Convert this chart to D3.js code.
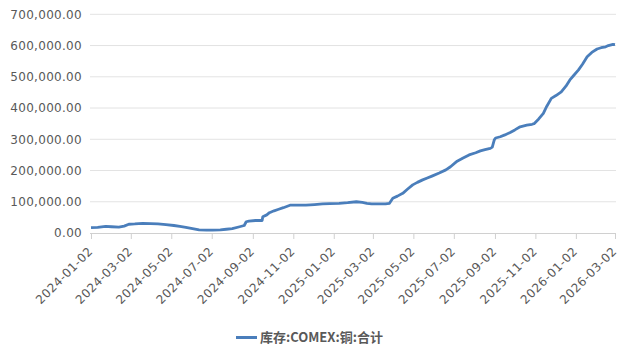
<!DOCTYPE html>
<html>
<head>
<meta charset="utf-8">
<script src="https://cdn.jsdelivr.net/npm/d3@7/dist/d3.min.js"></script>
<style>
  html, body { margin: 0; padding: 0; background: #fff; }
  svg { display: block; }
  .tick text { font-family: "DejaVu Sans", sans-serif; font-size: 12px; fill: #595959; letter-spacing: 0.3px; }
  .x-axis .tick text { letter-spacing: 0.5px; }
  .legend text { font-family: "Noto Sans CJK SC", sans-serif; font-size: 13px; font-weight: bold; fill: #595959; }
</style>
</head>
<body>
<svg id="chart" width="617" height="349"></svg>
<script>
// COMEX copper inventory, total
const seriesName = "库存:COMEX:铜:合计";
const dates = [
  "2024-01-02","2024-01-12","2024-01-24","2024-02-02","2024-02-13","2024-02-21","2024-02-28",
  "2024-03-08","2024-03-20","2024-04-01","2024-04-12","2024-04-24","2024-05-06","2024-05-15",
  "2024-05-24","2024-06-03","2024-06-13","2024-06-24","2024-07-03","2024-07-15","2024-07-24",
  "2024-08-02","2024-08-13","2024-08-20","2024-08-23","2024-08-27","2024-09-06","2024-09-16",
  "2024-09-17","2024-09-23","2024-09-27","2024-10-04","2024-10-11","2024-10-18","2024-10-28",
  "2024-11-08","2024-11-21","2024-12-04","2024-12-16","2024-12-27","2025-01-10","2025-01-23",
  "2025-02-05","2025-02-14","2025-02-21","2025-02-28","2025-03-12","2025-03-21","2025-03-27",
  "2025-04-01","2025-04-08","2025-04-16","2025-04-23","2025-05-01","2025-05-08","2025-05-16",
  "2025-05-23","2025-05-30","2025-06-10","2025-06-20","2025-06-27","2025-07-07","2025-07-16",
  "2025-07-25","2025-08-04","2025-08-11","2025-08-18","2025-08-26","2025-08-29","2025-09-01",
  "2025-09-03","2025-09-10","2025-09-17","2025-09-25","2025-10-02","2025-10-10","2025-10-20",
  "2025-10-28","2025-10-31","2025-11-07","2025-11-14","2025-11-19","2025-11-26","2025-12-03",
  "2025-12-11","2025-12-18","2025-12-24","2025-12-30","2026-01-06","2026-01-12","2026-01-19",
  "2026-01-26","2026-02-03","2026-02-09","2026-02-16","2026-02-20","2026-02-27","2026-03-02"
];
const values = [
  17000,18000,21000,20000,19000,22000,28000,
  29000,31000,30000,29000,27000,24000,21000,
  18000,14000,10000,9000,9000,10000,12000,
  14000,20000,24000,36000,38000,40000,40000,
  52000,58000,65000,71000,76000,81000,89000,
  89000,89000,91000,93000,94000,95000,97000,
  100000,98000,95000,93000,93000,93000,95000,
  111000,118000,127000,140000,154000,162000,170000,
  176000,182000,192000,202000,212000,230000,240000,
  250000,257000,263000,267000,271000,275000,298000,
  304000,308000,314000,322000,330000,340000,345000,
  348000,350000,365000,383000,405000,431000,440000,
  452000,470000,490000,505000,522000,540000,564000,
  578000,589000,593000,596000,600000,604000,603000
];
const xTickLabels = [
  "2024-01-02","2024-03-02","2024-05-02","2024-07-02","2024-09-02","2024-11-02","2025-01-02",
  "2025-03-02","2025-05-02","2025-07-02","2025-09-02","2025-11-02","2026-01-02","2026-03-02"
];
const yTickValues = [0, 100000, 200000, 300000, 400000, 500000, 600000, 700000];

const parse = d3.timeParse("%Y-%m-%d");
const data = dates.map((d, i) => ({ date: parse(d), value: values[i] }));

const svg = d3.select("#chart");
const plotLeft = 91, plotRight = 615, plotTop = 14.3, plotBottom = 233;

const x = d3.scaleTime()
  .domain([parse(xTickLabels[0]), parse(xTickLabels[xTickLabels.length - 1])])
  .range([plotLeft, plotRight]);
const y = d3.scaleLinear().domain([0, 700000]).range([plotBottom, plotTop]);

// horizontal gridlines
svg.append("g")
  .selectAll("line")
  .data(yTickValues.filter(v => v > 0))
  .join("line")
  .attr("x1", plotLeft - 1).attr("x2", 616)
  .attr("y1", d => y(d)).attr("y2", d => y(d))
  .attr("stroke", "#e3e3e3").attr("stroke-width", 1);

// y axis labels
const yAxis = svg.append("g")
  .attr("transform", `translate(${plotLeft - 1},0)`)
  .call(d3.axisLeft(y).tickValues(yTickValues).tickFormat(d3.format(",.2f")).tickSize(0).tickPadding(8));
yAxis.select(".domain").remove();

// x axis with rotated date labels
const xAxis = svg.append("g")
  .attr("class", "x-axis")
  .attr("transform", `translate(0,${plotBottom})`)
  .call(d3.axisBottom(x).tickValues(xTickLabels.map(parse)).tickFormat(d3.timeFormat("%Y-%m-%d")).tickSize(6).tickSizeOuter(0));
xAxis.select(".domain").attr("stroke", "#d0d0d0").attr("d", `M${plotLeft - 1},0.5H616`);
xAxis.selectAll(".tick line").attr("stroke", "#d0d0d0");
xAxis.selectAll(".tick text")
  .attr("text-anchor", "end")
  .attr("x", 0).attr("y", 0).attr("dx", 0).attr("dy", 0)
  .attr("transform", "translate(2,19) rotate(-45)");

// series line
const line = d3.line().x(d => x(d.date)).y(d => y(d.value));
svg.append("path")
  .datum(data)
  .attr("d", line)
  .attr("fill", "none")
  .attr("stroke", "#4a7ebb")
  .attr("stroke-width", 2.8)
  .attr("stroke-linejoin", "round");

// legend
const legend = svg.append("g").attr("class", "legend");
legend.append("line")
  .attr("x1", 236).attr("x2", 257).attr("y1", 337.5).attr("y2", 337.5)
  .attr("stroke", "#4a7ebb").attr("stroke-width", 3);
legend.append("text")
  .attr("x", 260).attr("y", 337.5).attr("dy", "0.35em")
  .text(seriesName);
</script>
</body>
</html>
